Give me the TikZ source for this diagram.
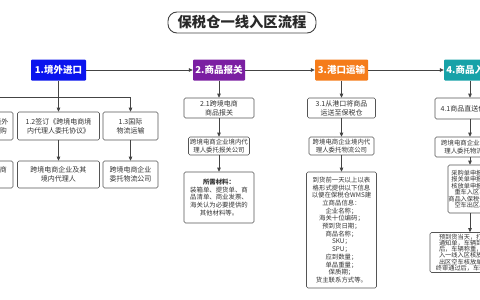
\documentclass[tikz,border=0pt]{standalone}
\usepackage{fontspec}
\setmainfont{Noto Sans CJK SC}
\usetikzlibrary{arrows.meta}
\definecolor{hblue}{HTML}{0A14EE}
\definecolor{hpurple}{HTML}{7B1FA2}
\definecolor{horange}{HTML}{F57C1A}
\definecolor{hteal}{HTML}{17A2A8}
\definecolor{bordergray}{HTML}{555555}
\definecolor{linegray}{HTML}{444444}
\definecolor{txt}{HTML}{333333}
\begin{document}
\begin{tikzpicture}[x=1pt,y=-1pt,
  hdr/.style={text=white, font=\fontsize{9.5}{11}\selectfont\bfseries, inner sep=0, rounded corners=1pt, minimum height=21pt},
  sbox/.style={draw=bordergray, line width=0.7pt, rounded corners=1.5pt, fill=white, align=center, text=txt, inner sep=0, font=\fontsize{7}{9}\selectfont},
  dbox/.style={sbox, font=\fontsize{6.4}{7.7}\selectfont},
  arr/.style={draw=linegray, line width=0.7pt, -{Triangle[length=4pt,width=3.6pt]}},
  ln/.style={draw=linegray, line width=0.7pt}]
\useasboundingbox (0,0) rectangle (480,300);
\clip (0,0) rectangle (480,300);
\fill[white] (0,0) rectangle (480,300);

% title
\node[draw=linegray, line width=0.9pt, rounded corners=9pt, minimum width=148pt, minimum height=21pt, inner sep=0, text=txt!80!black, font=\fontsize{14.3}{16}\selectfont\bfseries] (title) at (242,22.5) {保税仓一线入区流程};

% headers
\node[hdr, fill=hblue, minimum width=55pt] (h1) at (58.5,70) {1.境外进口};
\node[hdr, fill=hpurple, minimum width=52pt] (h2) at (219,70) {2.商品报关};
\node[hdr, fill=horange, minimum width=53pt] (h3) at (341.5,70) {3.港口运输};
\node[hdr, fill=hteal, minimum width=52pt] (h4) at (470,70) {4.商品入区};

% column 1
\node[sbox, minimum width=82pt, minimum height=28pt] (b11) at (-28,126) {1.1跨境电商企业在境外\\供应商处进行商品采购};
\node[sbox, minimum width=82pt, minimum height=28pt] (b12) at (58.5,126) {1.2签订《跨境电商境\\内代理人委托协议》};
\node[sbox, minimum width=55pt, minimum height=28pt] (b13) at (130.5,126) {1.3国际\\物流运输};
\node[sbox, minimum width=82pt, minimum height=27pt] (c11) at (-28,174.5) {境外供应商与跨境电商\\企业};
\node[sbox, minimum width=82pt, minimum height=27pt] (c12) at (58.5,174.5) {跨境电商企业及其\\境内代理人};
\node[sbox, minimum width=55pt, minimum height=27pt] (c13) at (130.5,174.5) {跨境电商企业\\委托物流公司};

% column 2
\node[sbox, minimum width=70pt, minimum height=20pt] (b21) at (219,108) {2.1跨境电商\\商品报关};
\node[dbox, minimum width=61pt, minimum height=18pt] (b22) at (219,146) {跨境电商企业境内代\\理人委托报关公司};
\node[dbox, minimum width=70pt, minimum height=51pt] (b23) at (219,197.5) {\textbf{所需材料：}\\装箱单、提货单、商\\品清单、商业发票、\\海关认为必要提供的\\其他材料等。};

% column 3
\node[sbox, minimum width=68pt, minimum height=20pt] (b31) at (341.5,108) {3.1从港口将商品\\运送至保税仓};
\node[dbox, minimum width=65pt, minimum height=18pt] (b32) at (341.5,146) {跨境电商企业境内代\\理人委托物流公司};
\node[dbox, minimum width=70pt, minimum height=116pt] (b33) at (341.5,230) {到货前一天以上以表\\格形式提供以下信息\\以便在保税仓WMS建\\立商品信息：\\企业名称；\\海关十位编码；\\预到货日期；\\商品名称；\\SKU；\\SPU；\\应到数量；\\单品重量；\\保质期；\\货主联系方式等。};

% column 4
\node[sbox, minimum width=70pt, minimum height=21pt] (b41) at (470,108.5) {4.1商品直送保税仓};
\node[dbox, minimum width=70pt, minimum height=20pt] (b42) at (470,147) {跨境电商企业境内代\\理人委托物流公司};
\node[sbox, font=\fontsize{6.2}{6.5}\selectfont, minimum width=44pt, minimum height=48pt] (b43) at (470,189) {采购单申报、\\报关单申报、\\核放单申报、\\重车入区、\\商品入保税仓、\\空车出区。};
\node[sbox, font=\fontsize{6.2}{6.3}\selectfont, minimum width=80pt, minimum height=40pt] (b44) at (470,252.5) {预到货当天，打印入库\\通知单，车辆到达园区\\后，车辆称重，系统录\\入一线入区核放单，并\\出区空车核放单，海关\\终审通过后，车辆出区。};

% header chain
\draw[arr] (h1) -- (h2);
\draw[arr] (h2) -- (h3);
\draw[arr] (h3) -- (h4);

% column 1 connectors
\draw[ln] (h1.south) -- ++(0,17) coordinate (j1);
\draw[arr] (j1) -- (b12.north);
\draw[arr] (j1) -| (b13.north);
\draw[arr] (j1) -| (b11.north);
\draw[arr] (b11) -- (c11);
\draw[arr] (b12) -- (c12);
\draw[arr] (b13) -- (c13);

% column 2
\draw[arr] (h2) -- (b21);
\draw[arr] (b21) -- (b22);
\draw[arr] (b22) -- (b23);

% column 3
\draw[arr] (h3) -- (b31);
\draw[arr] (b31) -- (b32);
\draw[arr] (b32) -- (b33);

% column 4
\draw[arr] (h4) -- (b41);
\draw[arr] (b41) -- (b42);
\draw[arr] (b42) -- (b43);
\draw[arr] (b43) -- (b44);
\end{tikzpicture}
\end{document}
